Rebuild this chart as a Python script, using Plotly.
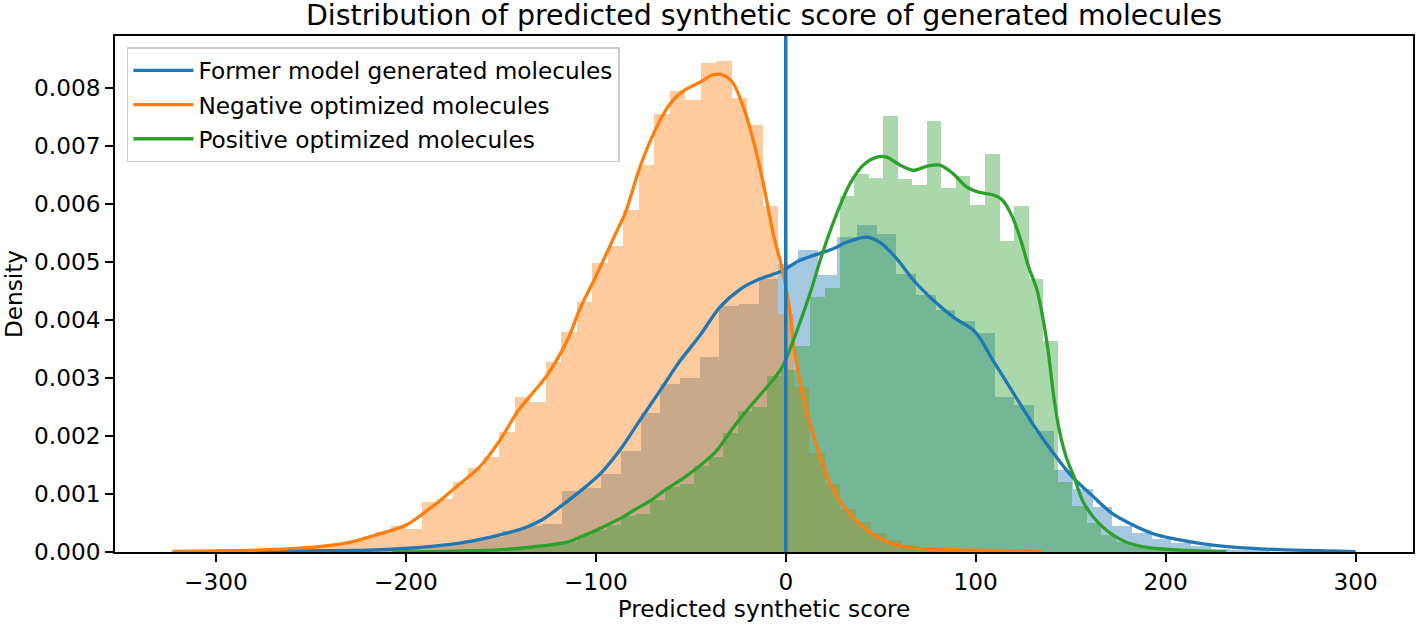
import plotly.graph_objects as go

# ---------------- data ----------------
title_text = "Distribution of predicted synthetic score of generated molecules"
x_label = "Predicted synthetic score"
y_label = "Density"
series_names = ["Former model generated molecules", "Negative optimized molecules", "Positive optimized molecules"]

# histogram bins (left edge of first bin, bin width), 50 bins each
former_bin_start = -262.7
former_bin_width = 10.35
negative_bin_start = -297.7
negative_bin_width = 8.16
positive_bin_start = -155.47
positive_bin_width = 7.658

former_hist = [0.00001, 0.00001, 0.00002, 0.00002, 0.00003, 0.00004, 0.00006, 0.00009, 0.00014, 0.0002,
               0.00026, 0.00036, 0.00044, 0.00048, 0.00105, 0.0011, 0.00135, 0.00175, 0.0024, 0.0029,
               0.0030, 0.00336, 0.00424, 0.00428, 0.00471, 0.00496, 0.0052, 0.00478, 0.00544, 0.00564,
               0.00548, 0.0048, 0.00443, 0.00417, 0.00398, 0.00378, 0.00267, 0.00253, 0.00209, 0.00141,
               0.00109, 0.00078, 0.00044, 0.00032, 0.00023, 0.00016, 0.0001, 0.00006, 0.00004, 0.00002]

negative_hist = [0.00001, 0.00002, 0.00002, 0.00003, 0.00004, 0.00006, 0.00008, 0.00012, 0.00017, 0.00024,
                 0.00035, 0.00044, 0.00039, 0.00086, 0.00092, 0.00121, 0.00144, 0.00164, 0.00207, 0.00267,
                 0.00259, 0.00328, 0.00379, 0.00431, 0.00498, 0.00527, 0.00589, 0.00668, 0.00755, 0.00795,
                 0.0078, 0.00843, 0.00847, 0.00783, 0.00736, 0.00597, 0.0041, 0.00284, 0.0017, 0.00118,
                 0.00075, 0.00052, 0.00032, 0.0002, 0.00012, 0.00008, 0.00005, 0.00003, 0.00002, 0.00001]

positive_hist = [0.00003, 0.00004, 0.00008, 0.0001, 0.00015, 0.00018, 0.0003, 0.00038, 0.00046, 0.00062,
                 0.00066, 0.0009, 0.00112, 0.00118, 0.00148, 0.00164, 0.00205, 0.00243, 0.0025, 0.00303,
                 0.00313, 0.00356, 0.0044, 0.00455, 0.00613, 0.00652, 0.00645, 0.00752, 0.00644, 0.00633,
                 0.00744, 0.00628, 0.00648, 0.00598, 0.00687, 0.00537, 0.00596, 0.0047, 0.00364, 0.0012,
                 0.0008, 0.0005, 0.0003, 0.00018, 0.0001, 0.00006, 0.00004, 0.00002, 0.00001, 0.00001]

# KDE curves
former_kde_x = [-305, -256, -220, -200, -185, -170, -159, -150, -138, -128, -118, -107, -97, -87, -77,
                -66, -56, -45, -35, -24, -13.5, -3, 7.5, 18, 25, 32, 42.6, 49.6, 58.4, 67.2, 77.7, 88.2,
                99.6, 109, 120, 130, 141, 151, 162, 172, 183, 193, 204, 218, 234, 260, 297, 300]
former_kde_y = [0.0, 0.00002, 0.00003, 0.00006, 0.0001, 0.00016, 0.00023, 0.0003, 0.00041, 0.00056,
                0.0008, 0.00108, 0.00137, 0.00177, 0.00226, 0.00279, 0.00328, 0.00374, 0.00421, 0.00453,
                0.00471, 0.00483, 0.00503, 0.00515, 0.00523, 0.00534, 0.00543, 0.00534, 0.00506,
                0.00469, 0.00434, 0.00405, 0.0038, 0.00331, 0.00273, 0.00221, 0.0017, 0.00129,
                0.00095, 0.00066, 0.00046, 0.00032, 0.00023, 0.00015, 0.00009, 0.00004, 0.00001, 0.0]

negative_kde_x = [-323, -300, -273, -247, -229, -215, -200, -191, -183, -175, -161, -150, -141, -133,
                  -126, -115, -108, -101, -95, -88, -84.6, -76.7, -68.8, -60.9, -53.9, -45.1, -38.1, -32.8,
                  -27.6, -22.3, -17.1, -11.8, -6.6, -2, 1.5, 4.5, 7.5, 12.8, 18.1, 23.3, 32.1, 40.8, 49.6,
                  58.4, 70.7, 85, 102, 120, 135]
negative_kde_y = [0.00001, 0.00002, 0.00004, 0.00009, 0.00017, 0.0003, 0.00046, 0.00066, 0.00086,
                  0.00108, 0.00147, 0.00195, 0.00243, 0.00275, 0.00303, 0.00365, 0.00422, 0.00468, 0.0051,
                  0.0056, 0.00583, 0.00664, 0.00727, 0.00773, 0.00795, 0.0081, 0.00823, 0.00822, 0.00808,
                  0.00767, 0.0071, 0.00635, 0.00549, 0.0049, 0.0043, 0.0035, 0.00293, 0.00221, 0.00164,
                  0.00118, 0.00072, 0.00043, 0.00023, 0.00012, 0.00006, 0.00004, 0.00003, 0.00001, 0.0]

positive_kde_x = [-207, -180, -150, -133, -115, -105, -97, -87, -80, -71, -63, -54, -45, -36, -28, -19, -10,
                  -2, 4, 12.8, 19.8, 26.8, 33.8, 40.8, 47.9, 53.2, 60.2, 67.2, 74.2, 81.2, 88.2, 95, 102,
                  109, 114, 119, 123.5, 128, 132, 135, 138, 141, 144, 147.5, 152, 156.6, 162, 166,
                  171, 175, 180, 190, 204, 232]
positive_kde_y = [0.0, 0.00001, 0.00004, 0.00009, 0.00017, 0.0003, 0.00042, 0.00058, 0.00072, 0.00089,
                  0.00108, 0.00127, 0.00149, 0.00176, 0.00213, 0.0025, 0.00284, 0.00318, 0.00365, 0.00446,
                  0.0052, 0.00583, 0.00635, 0.00667, 0.00681, 0.00681, 0.00667, 0.00658, 0.00665, 0.00667,
                  0.00652, 0.0063, 0.0062, 0.00616, 0.00607, 0.0058, 0.0054, 0.0049, 0.00455, 0.0041,
                  0.0035, 0.0027, 0.0021, 0.00165, 0.00127, 0.00086, 0.0006, 0.00046, 0.00032,
                  0.00024, 0.00016, 0.00008, 0.00004, 0.0]

reference_x = 0

x_ticks = [-300, -200, -100, 0, 100, 200, 300]
y_ticks = [0.000, 0.001, 0.002, 0.003, 0.004, 0.005, 0.006, 0.007, 0.008]
x_range = [-353.1, 330.2]
y_range = [0.0, 0.008897]

# ---------------- figure ----------------
colors = ["#1f77b4", "#ff7f0e", "#2ca02c"]
FONT = "DejaVu Sans"
FS = 23.2
FIG_W, FIG_H = 1416, 626

hists = [(former_bin_start, former_bin_width, former_hist),
         (negative_bin_start, negative_bin_width, negative_hist),
         (positive_bin_start, positive_bin_width, positive_hist)]
kdes = [(former_kde_x, former_kde_y), (negative_kde_x, negative_kde_y), (positive_kde_x, positive_kde_y)]

fig = go.Figure()
for k, ((start, width, heights), (kx, ky), name, col) in enumerate(zip(hists, kdes, series_names, colors)):
    centers = [start + width * (i + 0.5) for i in range(len(heights))]
    fig.add_trace(go.Bar(x=centers, y=heights, width=width, marker=dict(color=col, line=dict(width=0)),
                         opacity=0.4, showlegend=False, hoverinfo="skip"))
    fig.add_trace(go.Scatter(x=kx, y=ky, mode="lines", name=name, legendgroup=f"g{k}",
                             line=dict(color=col, width=3.3, shape="spline", smoothing=0.8)))

fig.add_shape(type="line", xref="x", yref="paper", x0=reference_x, x1=reference_x, y0=0, y1=1,
              line=dict(color=colors[0], width=3.5), layer="above")

axis_common = dict(showline=True, linecolor="black", linewidth=1.8, mirror=True, showgrid=False,
                   zeroline=False, ticks="outside", ticklen=8, tickwidth=1.8, tickcolor="black",
                   automargin=False,
                   tickfont=dict(family=FONT, size=FS, color="black"))

fig.update_layout(
    width=FIG_W, height=FIG_H,
    margin=dict(l=115, r=3, t=36, b=74, autoexpand=False),
    paper_bgcolor="white", plot_bgcolor="white",
    barmode="overlay", bargap=0,
    font=dict(family=FONT, size=FS, color="black"),
    title=dict(text=title_text, x=0.5, xref="paper", xanchor="center",
               y=1 - 15 / FIG_H, yref="container", yanchor="middle",
               font=dict(family=FONT, size=28.4, color="black")),
    xaxis=dict(range=x_range, tickvals=x_ticks, title=dict(text=x_label, standoff=4,
               font=dict(family=FONT, size=FS)), **axis_common),
    yaxis=dict(range=y_range, tickvals=y_ticks, tickformat=".3f",
               title=dict(text=y_label, standoff=6, font=dict(family=FONT, size=FS)), **axis_common),
    legend=dict(x=0.0092, y=0.978, xanchor="left", yanchor="top", itemwidth=60,
                bgcolor="rgba(255,255,255,0.8)", bordercolor="#cccccc", borderwidth=1.5,
                font=dict(family=FONT, size=FS, color="black"), tracegroupgap=1),
    showlegend=True,
)

# remove the browser's default 8px body margin so the figure fills the window exactly
fig.write_html("out.html", config={"displayModeBar": False},
               post_script="document.body.style.margin='0';")
